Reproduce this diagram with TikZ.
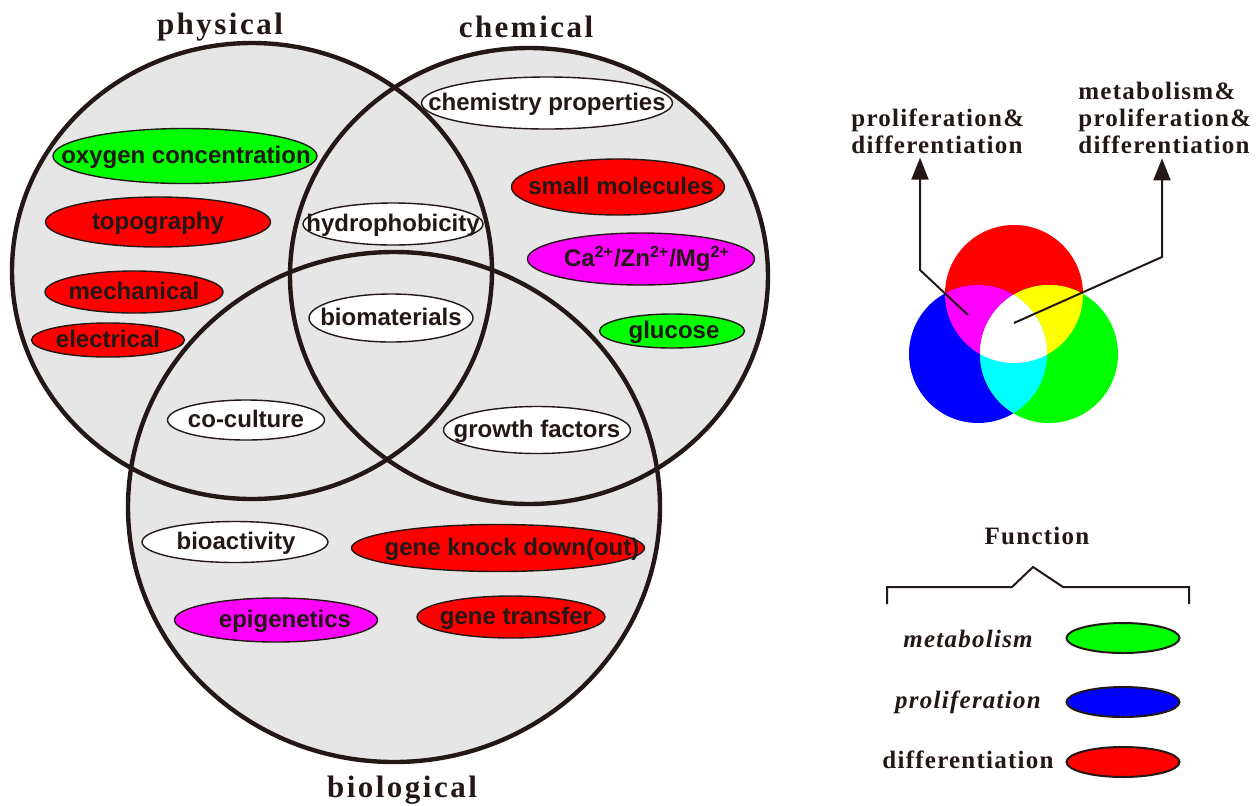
\documentclass[tikz,border=0pt]{standalone}
\usepackage{fontspec}
\setmainfont{Liberation Serif}
\setsansfont{Liberation Sans}
\newfontfamily\titlefont[LetterSpace=8]{Liberation Serif}
\newfontfamily\labfont[LetterSpace=5]{Liberation Serif}
\usetikzlibrary{shapes.geometric,arrows.meta}
\definecolor{ink}{RGB}{35,24,21}
\definecolor{venngray}{RGB}{230,230,230}
\definecolor{pgreen}{RGB}{0,255,0}
\definecolor{pred}{RGB}{255,0,0}
\definecolor{pblue}{RGB}{0,0,255}
\definecolor{pmag}{RGB}{255,0,255}
\definecolor{pyellow}{RGB}{255,255,0}
\definecolor{pcyan}{RGB}{0,255,255}
\tikzset{
  ring/.style={ellipse,draw=ink,line width=2.2pt,inner sep=0pt},
  tag/.style={ellipse,draw=ink,line width=0.7pt,inner sep=0pt},
  tagtext/.style={font=\sffamily\bfseries\fontsize{12}{14}\selectfont,text=ink,inner sep=0pt,text height=9.5pt,text depth=2.5pt},
  title/.style={font=\titlefont\bfseries\fontsize{15.5}{18}\selectfont,text=ink,inner sep=0pt,anchor=base},
  lab/.style={font=\labfont\bfseries\fontsize{12.5}{13.5}\selectfont,text=ink,inner sep=0pt,align=left,anchor=north west},
  keytext/.style={font=\labfont\bfseries\fontsize{12.5}{13.5}\selectfont,text=ink,inner sep=0pt,anchor=base},
  keyell/.style={ellipse,draw=ink,line width=1pt,minimum width=56.5pt,minimum height=15pt,inner sep=0pt},
  arr/.style={draw=ink,line width=1pt,-{Triangle[length=11pt,width=8.5pt]}},
}
\begin{document}
\begin{tikzpicture}[x=0.5pt,y=-0.5pt]
\useasboundingbox (0,0) rectangle (1260,805);
% Venn fills
\fill[venngray] (252,271) ellipse [x radius=120pt,y radius=114pt];
\fill[venngray] (529,276) ellipse [x radius=119.5pt,y radius=114pt];
\fill[venngray] (394,507) ellipse [x radius=133pt,y radius=127.5pt];
% Venn rings
\node[ring,minimum width=240pt,minimum height=228pt] (phys) at (252,271) {};
\node[ring,minimum width=239pt,minimum height=228pt] (chem) at (529,276) {};
\node[ring,minimum width=266pt,minimum height=255pt] (bio) at (394,507) {};
% titles
\node[title] (tphys) at (220,34) {physical};
\node[title] (tchem) at (526,37) {chemical};
\node[title] (tbio) at (402,797) {biological};
% tags
\node[tag,fill=pgreen,minimum width=132pt,minimum height=27.5pt] (oxy) at (185,156) {};
\node[tagtext] (oxyt) at (186,156) {oxygen concentration};
\node[tag,fill=pred,minimum width=112.5pt,minimum height=25pt] (topo) at (158,222) {};
\node[tagtext] (topot) at (topo) {topography};
\node[tag,fill=pred,minimum width=89pt,minimum height=21pt] (mech) at (134,292) {};
\node[tagtext] (mecht) at (mech) {mechanical};
\node[tag,fill=pred,minimum width=76.5pt,minimum height=17pt] (elec) at (108,340) {};
\node[tagtext] (elect) at (elec) {electrical};
\node[tag,fill=white,minimum width=90pt,minimum height=21pt] (hydro) at (393,224) {};
\node[tagtext] (hydrot) at (hydro) {hydrophobicity};
\node[tag,fill=white,minimum width=82pt,minimum height=24pt] (biom) at (391,318) {};
\node[tagtext] (biomt) at (biom) {biomaterials};
\node[tag,fill=white,minimum width=78.5pt,minimum height=20pt] (cocul) at (246,420) {};
\node[tagtext] (cocult) at (cocul) {co-culture};
\node[tag,fill=white,minimum width=93.5pt,minimum height=23.5pt] (growth) at (537,430) {};
\node[tagtext] (growtht) at (growth) {growth factors};
\node[tag,fill=white,minimum width=125.5pt,minimum height=26pt] (chemprop) at (547,103) {};
\node[tagtext] (chempropt) at (chemprop) {chemistry properties};
\node[tag,fill=pred,minimum width=106.5pt,minimum height=28pt] (smol) at (618,187) {};
\node[tagtext] (smolt) at (621,187) {small molecules};
\node[tag,fill=pmag,minimum width=113.5pt,minimum height=26pt] (ions) at (641,259) {};
\node[tagtext] (ionst) at (647,259) {Ca\textsuperscript{2+}/Zn\textsuperscript{2+}/Mg\textsuperscript{2+}};
\node[tag,fill=pgreen,minimum width=72.5pt,minimum height=17pt] (gluc) at (672,331) {};
\node[tagtext] (guct) at (674,331) {glucose};
\node[tag,fill=white,minimum width=93pt,minimum height=20.5pt] (bioact) at (235,542) {};
\node[tagtext] (bioactt) at (236,542) {bioactivity};
\node[tag,fill=pred,minimum width=146.5pt,minimum height=23.5pt] (knock) at (498,548) {};
\node[tagtext] (knockt) at (512,548) {gene knock down(out)};
\node[tag,fill=pmag,minimum width=101.5pt,minimum height=22pt] (epi) at (276,620) {};
\node[tagtext] (epit) at (285,620) {epigenetics};
\node[tag,fill=pred,minimum width=94pt,minimum height=21pt] (transf) at (511,617) {};
\node[tagtext] (transft) at (516,617) {gene transfer};
% RGB circles
\fill[pred] (1014,294) circle [radius=34.5pt];
\fill[pblue] (978,354) circle [radius=34.5pt];
\fill[pgreen] (1049,354) circle [radius=34.5pt];
\begin{scope}
  \clip (1014,294) circle [radius=34.5pt];
  \fill[pmag] (978,354) circle [radius=34.5pt];
  \fill[pyellow] (1049,354) circle [radius=34.5pt];
\end{scope}
\begin{scope}
  \clip (978,354) circle [radius=34.5pt];
  \fill[pcyan] (1049,354) circle [radius=34.5pt];
  \clip (1049,354) circle [radius=34.5pt];
  \fill[white] (1014,294) circle [radius=34.5pt];
\end{scope}
% labels and arrows
\node[lab] (labL) at (851,108) {proliferation\&\\differentiation};
\node[lab] (labR) at (1078,82) {metabolism\&\\proliferation\&\\differentiation};
\coordinate (magpt) at (968,315);
\coordinate (whitept) at (1014,323);
\coordinate (bendL) at (920,270);
\coordinate (bendR) at (1162,257);
\draw[arr,shorten >=2pt] (magpt) -- (bendL) -- (bendL |- labL.south);
\draw[arr,shorten >=2pt] (whitept) -- (bendR) -- (bendR |- labR.south);
% legend
\node[keytext] (func) at (1037,544) {Function};
\draw[ink,line width=1pt] (887,604) -- (887,587) -- (1012,587) -- (1033,567) -- (1063,587) -- (1189,587) -- (1189,604);
\node[keyell,fill=pgreen] (keyM) at (1123,638) {};
\node[keyell,fill=pblue] (keyP) at (1123,702) {};
\node[keyell,fill=pred] (keyD) at (1123,762) {};
\node[keytext] (keyMt) at (968,647) {\itshape metabolism};
\node[keytext] (keyPt) at (968,708) {\itshape proliferation};
\node[keytext] (keyDt) at (968,768) {differentiation};
\end{tikzpicture}
\end{document}
